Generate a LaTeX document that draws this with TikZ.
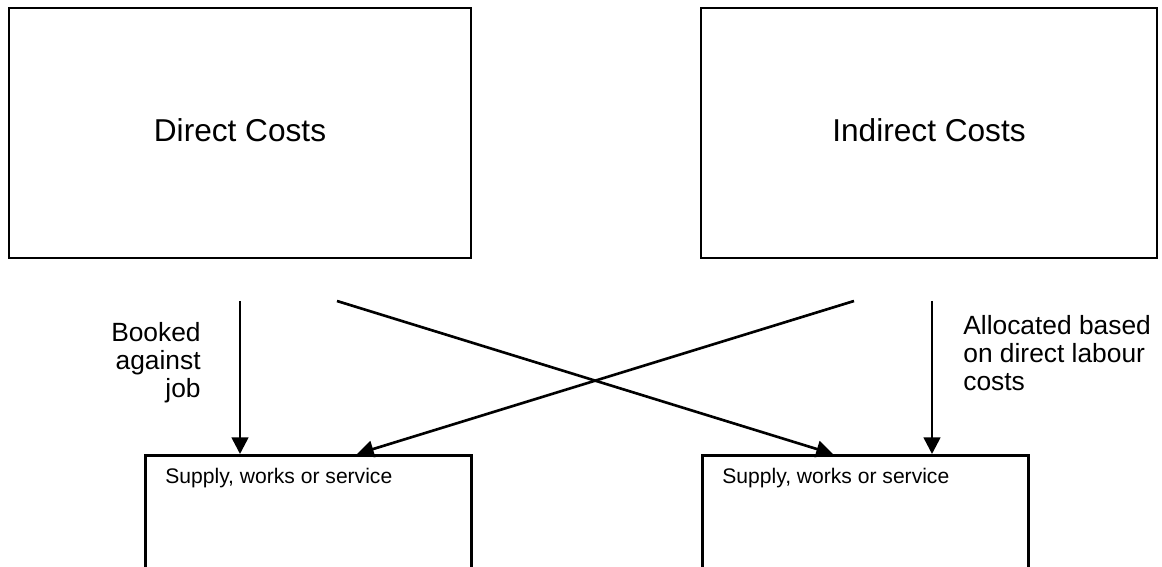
\documentclass[tikz,border=0pt]{standalone}
\usepackage{fontspec}
\setmainfont{Liberation Sans}
\usetikzlibrary{positioning,arrows.meta}

\begin{document}
\begin{tikzpicture}
            [x=0.02cm, y=-0.02cm,
             costbox/.style = {draw, line width=1.5pt, minimum height=5cm, text depth=0.3em, font=\fontsize{18}{21}\selectfont},
             jobbox/.style = {draw, line width=1.5pt, minimum width=6.52cm, minimum height=2.92cm, anchor=north west},
             jobtext/.style = {inner sep=0pt, font=\fontsize{12}{14}\selectfont},
             note/.style = {inner sep=0pt, font=\fontsize{15}{16}\selectfont},
             arr/.style = {-{Triangle[length=9.5pt, width=9.5pt]}, line width=1.5pt}]
            \useasboundingbox (0,0) rectangle (1162,567);
            \clip (0,0) rectangle (1162,567);
            \node[costbox, minimum width=9.24cm] (direct) at (240,133) {Direct Costs};
            \node[costbox, minimum width=9.12cm] (indirect) at (929,133) {Indirect Costs};
            \node[jobbox] (supply1) at (144,454) {};
            \node[jobbox] (supply2) at (701,454) {};
            \node[jobtext, below right=0.27cm and 0.42cm of supply1.north west] (supply1text) {Supply, works or service};
            \node[jobtext, below right=0.27cm and 0.42cm of supply2.north west] (supply2text) {Supply, works or service};
            \node[note, align=right, anchor=north east] (booked) at (201,322) {Booked\\against\\job};
            \node[note, align=left, anchor=north west] (allocated) at (963,315) {Allocated based\\on direct labour\\costs};
            \coordinate (fromdirect) at (240,301);
            \coordinate (fromdirectx) at (337,301);
            \coordinate (fromindirectx) at (854,301);
            \coordinate (fromindirect) at (932,301);
            \draw[arr] (fromdirect) -- (fromdirect |- supply1.north);
            \draw[arr] (fromdirectx) -- ([xshift=2.64cm]supply2.north west);
            \draw[arr] (fromindirectx) -- ([xshift=4.26cm]supply1.north west);
            \draw[arr] (fromindirect) -- (fromindirect |- supply2.north);
        \end{tikzpicture}
\end{document}
